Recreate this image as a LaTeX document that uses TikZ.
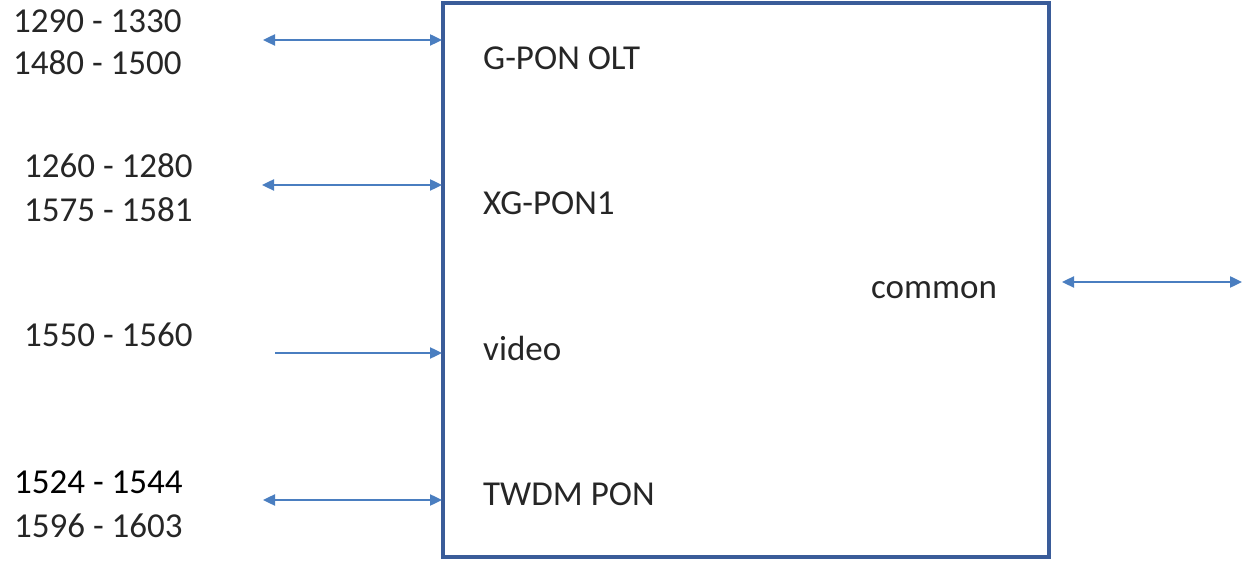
\documentclass[tikz,border=0pt]{standalone}
\usepackage{fontspec}
\setmainfont{Carlito}
\usetikzlibrary{arrows.meta}
\definecolor{boxblue}{HTML}{3A5C99}
\definecolor{arrblue}{HTML}{4A7EC0}
\begin{document}
\begin{tikzpicture}[x=1pt,y=-1pt,
  txt/.style={anchor=base west,inner sep=0pt,font=\fontsize{35}{40}\selectfont,text=black!85},
  conn/.style={draw=arrblue,line width=2.4pt,arrows={-Triangle[length=12pt,width=11pt]}},
  biconn/.style={conn,arrows={Triangle[length=12pt,width=11pt]-Triangle[length=12pt,width=11pt]}}]
\useasboundingbox (0,0) rectangle (1243,561);
\node[draw=boxblue,line width=3.4pt,minimum width=606pt,minimum height=554pt,inner sep=0pt] (box) at (746,280) {};
% left labels
\node[txt] (n1a) at (13,33) {1290 - 1330};
\node[txt] (n1b) at (13,75) {1480 - 1500};
\node[txt] (n2a) at (24,178) {1260 - 1280};
\node[txt] (n2b) at (24,222) {1575 - 1581};
\node[txt] (n3) at (24,347) {1550 - 1560};
\node[txt,text=black] (n4a) at (14,493) {1524 - 1544};
\node[txt] (n4b) at (14,537) {1596 - 1603};
% inner labels
\node[txt] (l1) at (483,70) {G-PON OLT};
\node[txt] (l2) at (483,215) {XG-PON1};
\node[txt] (l3) at (483,361) {video};
\node[txt] (l4) at (483,505) {TWDM PON};
\node[txt] (lc) at (871,299) {common};
% arrow end points
\coordinate (a1) at (263,40);
\coordinate (b1) at (442,40);
\coordinate (a2) at (262,185);
\coordinate (b2) at (442,185);
\coordinate (a3) at (275,353);
\coordinate (b3) at (442,353);
\coordinate (a4) at (263,500);
\coordinate (b4) at (442,500);
\coordinate (c1) at (1062,282);
\coordinate (c2) at (1242,282);
\draw[biconn] (a1) -- (b1);
\draw[biconn] (a2) -- (b2);
\draw[conn] (a3) -- (b3);
\draw[biconn] (a4) -- (b4);
\draw[biconn] (c1) -- (c2);
\end{tikzpicture}
\end{document}
